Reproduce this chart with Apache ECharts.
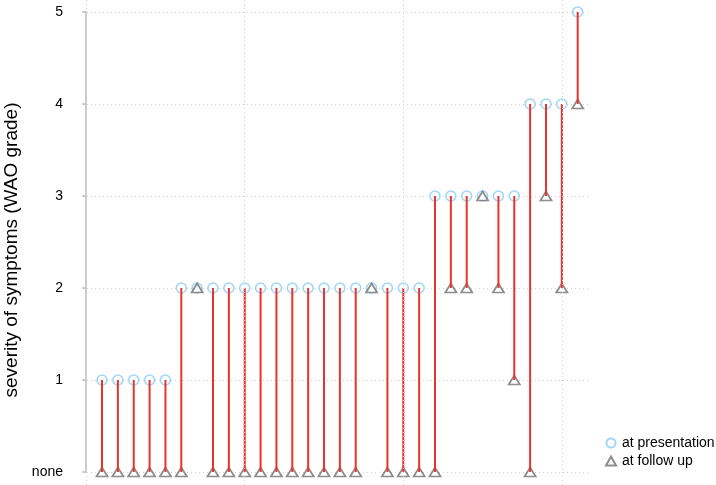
<!DOCTYPE html>
<html>
<head>
<meta charset="utf-8">
<script src="https://cdn.jsdelivr.net/npm/echarts@6/dist/echarts.min.js"></script>
<style>html,body{margin:0;padding:0;background:#fff}#c{width:716px;height:485px}</style>
</head>
<body>
<div id="c"></div>
<script>
const patients = [1,2,3,4,5,6,7,8,9,10,11,12,13,14,15,16,17,18,19,20,21,22,23,24,25,26,27,28,29,30,31];
const atPresentation = [1,1,1,1,1,2,2,2,2,2,2,2,2,2,2,2,2,2,2,2,2,3,3,3,3,3,3,4,4,4,5];
const atFollowUp     = [0,0,0,0,0,0,2,0,0,0,0,0,0,0,0,0,0,2,0,0,0,0,2,2,3,2,1,0,3,2,4];
const yTickLabels = ['none','1','2','3','4','5'];
const xGridAt = [0,10,20,30];

const chart = echarts.init(document.getElementById('c'));
const presData = patients.map((p,i)=>[p, atPresentation[i]]);
const follData = patients.map((p,i)=>[p, atFollowUp[i]]);
const segData = patients.map((p,i)=>[p, atPresentation[i], atFollowUp[i]]);
const FONT = 'Liberation Sans, Arial, sans-serif';

chart.setOption({
  animation:false,
  grid:[
    {left:83, right:128, top:12, bottom:13, outerBoundsMode:'none', containLabel:false},
    {left:83, right:128, top:0, bottom:0, outerBoundsMode:'none', containLabel:false}
  ],
  xAxis:[
    {gridIndex:0, type:'value', min:-0.2, max:31.65, show:false, splitLine:{show:false}},
    {gridIndex:1, type:'value', min:-0.2, max:31.65, show:false, splitLine:{show:false}}
  ],
  yAxis:[
    {gridIndex:0, type:'value', min:0, max:5, interval:1, offset:7,
    name:'severity of symptoms (WAO grade)', nameLocation:'middle', nameGap:51,
    nameTextStyle:{fontSize:19, color:'#000', fontFamily:FONT, padding:[0,16,0,0]},
    axisLine:{show:true, lineStyle:{color:'#bdbdbd', width:1.5}},
    axisTick:{show:true, length:4, lineStyle:{color:'#bdbdbd', width:1.5}},
    axisLabel:{color:'#000', fontSize:14, margin:13, fontFamily:FONT,
      formatter:v=>yTickLabels[v]},
    splitLine:{show:true, lineStyle:{color:'#d0d0d0', type:[1,3], width:1}}
    },
    {gridIndex:1, type:'value', min:0, max:1, show:false, splitLine:{show:false}}
  ],
  legend:{left:600, top:431, orient:'vertical', itemGap:4, itemWidth:10, itemHeight:9,
    textStyle:{fontSize:14, color:'#000', fontFamily:FONT, padding:[0,0,0,1]},
    data:['at presentation','at follow up']},
  series:[
    {name:'xgrid', type:'scatter', xAxisIndex:1, yAxisIndex:1, data:[], silent:true, z:0,
      markLine:{silent:true, symbol:'none', label:{show:false},
        lineStyle:{color:'#d0d0d0', type:[1,3], width:1},
        emphasis:{disabled:true},
        data: xGridAt.map(x=>[{coord:[x,0]},{coord:[x,1]}])}},
    {name:'at presentation', type:'scatter', data:presData, clip:false, z:2,
      symbol:'circle', symbolSize:10,
      itemStyle:{color:'#fff', borderColor:'#87cdf5', borderWidth:1.6}},
    {name:'at follow up', type:'scatter', data:follData, clip:false, z:3,
      symbol:'triangle', symbolSize:[11,9],
      itemStyle:{color:'#fff', borderColor:'#707070', borderWidth:1.8}},
    {name:'seg', type:'custom', data:segData, clip:false, z:4, silent:true,
      renderItem:(params, api)=>{
        const a = api.coord([api.value(0), api.value(1)]);
        const b = api.coord([api.value(0), api.value(2)]);
        return {type:'line', shape:{x1:a[0], y1:a[1], x2:b[0], y2:b[1]},
          style:{stroke:'#e8342c', lineWidth:2}};
      }}
  ]
});
</script>
</body>
</html>
